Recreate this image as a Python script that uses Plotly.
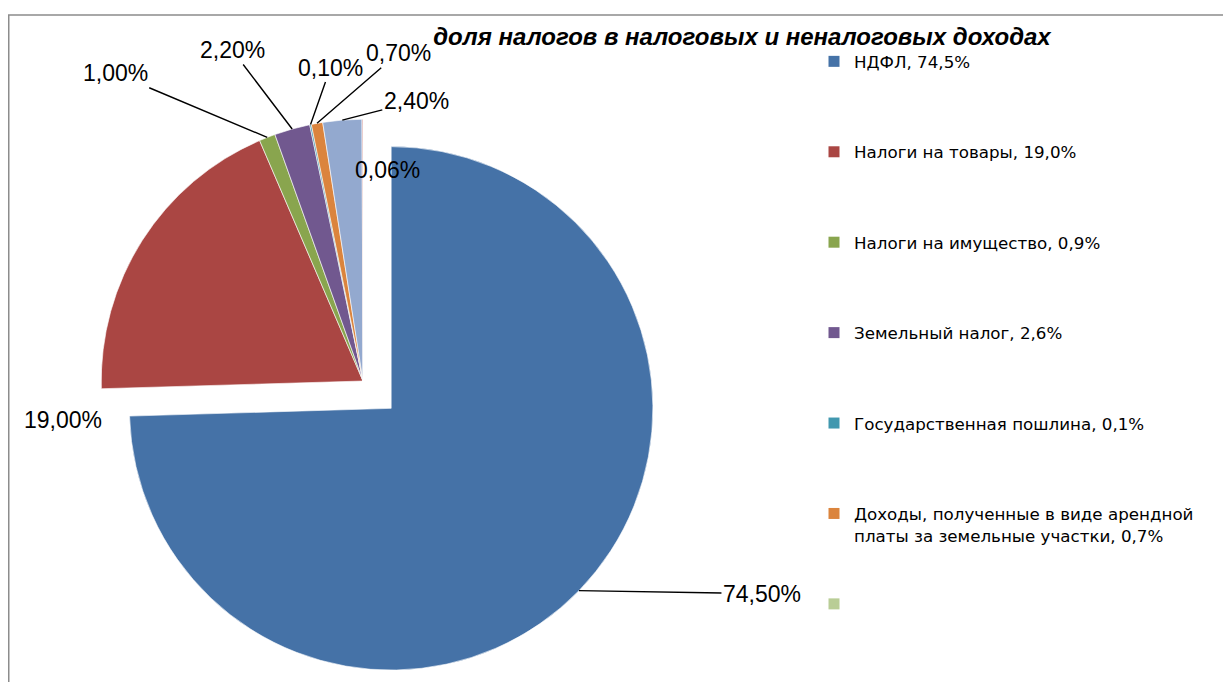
import math
import plotly.graph_objects as go

# ---------------- data ----------------
values = [74.5, 19.0, 1.0, 2.2, 0.1, 0.7, 2.4, 0.06]
slice_labels = ["НДФЛ", "Налоги на товары", "Налоги на имущество", "Земельный налог",
                "Государственная пошлина",
                "Доходы, полученные в виде арендной платы за земельные участки",
                "Прочие (1)", "Прочие (2)"]
slice_colors = ["#4572A7", "#AA4643", "#89A54E", "#71588F", "#4198AF", "#DB843D",
                "#93A9CF", "#D19392"]

legend_names = ["НДФЛ, 74,5%", "Налоги на товары, 19,0%", "Налоги на имущество, 0,9%",
                "Земельный налог, 2,6%", "Государственная пошлина, 0,1%",
                "Доходы, полученные в виде арендной<br>платы за земельные участки, 0,7%",
                ""]
legend_colors = ["#4572A7", "#AA4643", "#89A54E", "#71588F", "#4198AF", "#DB843D", "#B9CD96"]

title_text = "доля налогов в налоговых и неналоговых доходах"

# label offsets from slice edge (pixels) and whether a leader line is drawn
label_dx = [183, -79, -152, -60, 20, 81, 74, 25]
label_dy = [3, 180, -64, -79, -57, -70, -19, 51]
label_line = [True, False, True, True, True, True, True, False]

# ---------------- geometry ----------------
OFF = 8                      # page body margin
W, H = 1231 - OFF, 682 - OFF # figure size
cx_px = 363 - OFF            # pie centre in figure pixels
cy_px = 381 - OFF
M_T = int(2 * cy_px - H)     # top margin so the domain is centred on cy_px
plot_h = H - M_T
pull_main = 0.15
pulls = [pull_main] + [0] * (len(values) - 1)
r = (plot_h / 2) / (1 + pull_main)
dom_x = [(cx_px - plot_h / 2) / W, (cx_px + plot_h / 2) / W]

fig = go.Figure()
fig.add_trace(go.Pie(
    values=values, labels=slice_labels, sort=False, direction="clockwise", rotation=0,
    pull=pulls, textinfo="none", hoverinfo="label+percent", showlegend=False,
    marker=dict(colors=slice_colors, line=dict(color="white", width=0.6)),
    domain=dict(x=dom_x, y=[0, 1]),
))

# legend entries: every entry occupies two text lines so that the spacing stays even
for i, (n, c) in enumerate(zip(legend_names, legend_colors)):
    shown = n if "<br>" in n else n + "<br>&nbsp;"
    fig.add_trace(go.Scatter(x=[None], y=[None], mode="markers", name=shown,
                             legendgroup=str(i),
                             marker=dict(symbol="square", size=11, color=c),
                             hoverinfo="skip"))

total = sum(values)
cum = 0.0
annotations = []
for i, v in enumerate(values):
    a = 2 * math.pi * (cum + v / 2) / total
    cum += v
    ox, oy = cx_px, cy_px
    if pulls[i]:
        ox += pulls[i] * r * math.sin(a)
        oy -= pulls[i] * r * math.cos(a)
    px = ox + r * math.sin(a)
    py = oy - r * math.cos(a)
    txt = ("%.2f%%" % v).replace(".", ",")
    base = dict(x=px / W, y=(H - py) / plot_h, xref="paper", yref="paper", text=txt,
                xanchor="center", yanchor="middle",
                font=dict(family="Liberation Sans, Arial", size=23, color="black"))
    if label_line[i]:
        base.update(showarrow=True, ax=label_dx[i], ay=label_dy[i], arrowhead=0,
                    arrowwidth=1.4, arrowcolor="black", standoff=0)
    else:
        base.update(showarrow=False, xshift=label_dx[i], yshift=-label_dy[i])
    annotations.append(base)

legend_top = 44 - OFF
fig.update_layout(
    width=W, height=H, autosize=False,
    margin=dict(l=0, r=0, t=M_T, b=0, pad=0),
    paper_bgcolor="white", plot_bgcolor="white",
    xaxis=dict(visible=False), yaxis=dict(visible=False),
    title=dict(text="<b><i>" + title_text + "</i></b>", x=(742 - OFF) / W,
               xanchor="center", y=1 - (37 - OFF) / H, yanchor="middle",
               font=dict(family="Liberation Sans, Arial", size=24, color="black")),
    legend=dict(x=(814 - OFF) / W, xanchor="left", y=(H - legend_top) / plot_h,
                yanchor="top", maxheight=700,
                font=dict(family="DejaVu Sans", size=16.7, color="black"),
                tracegroupgap=44, valign="top", bgcolor="rgba(0,0,0,0)"),
    annotations=annotations,
    shapes=[dict(type="rect", xref="paper", yref="paper",
                 x0=0.75 / W, x1=1.02, y0=-0.05, y1=(H - (15 - OFF)) / plot_h,
                 line=dict(color="#8c8c8c", width=1.5), fillcolor="rgba(0,0,0,0)",
                 layer="below")],
)

fig.write_html("out.html")
